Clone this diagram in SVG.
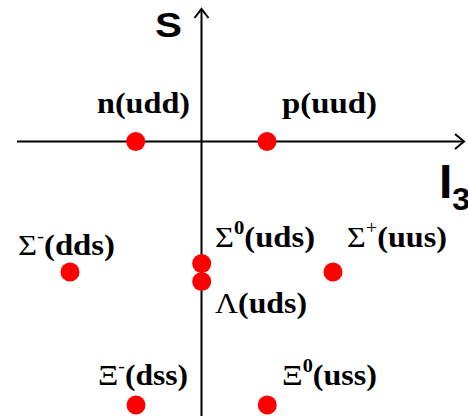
<svg xmlns="http://www.w3.org/2000/svg" width="468" height="416" viewBox="0 0 468 416">
<style>
.ax{stroke:#000;stroke-width:2;fill:none}
.dot{fill:#ff0000}
.lbl{font-family:"Liberation Serif","Times New Roman",serif;font-weight:bold;font-size:30px;fill:#000}
.gr{font-weight:normal}
.sup{font-size:19px}
.axl{font-family:"Liberation Sans",Arial,sans-serif;font-weight:bold;fill:#000}
</style>
<rect width="468" height="416" fill="#fff"/>
<g id="connectors">
<line class="ax" x1="201.5" y1="416" x2="201.5" y2="9"/>
<polyline class="ax" points="194.5,18 201.5,9 208.5,18"/>
<line class="ax" x1="17" y1="141.5" x2="464" y2="141.5"/>
<polyline class="ax" points="455,134 464,141.5 455,149"/>
</g>
<g id="axis-S"><text class="axl" x="155" y="37" font-size="35" textLength="27" lengthAdjust="spacingAndGlyphs">S</text></g>
<g id="axis-I3"><text class="axl" x="439" y="198" font-size="48">I<tspan font-size="32" dy="12">3</tspan></text></g>
<g id="n"><circle class="dot" cx="135.7" cy="141.5" r="9.5"/><text class="lbl" x="97" y="113" textLength="93" lengthAdjust="spacingAndGlyphs">n(udd)</text></g>
<g id="p"><circle class="dot" cx="267" cy="141.5" r="9.5"/><text class="lbl" x="282" y="113" textLength="95" lengthAdjust="spacingAndGlyphs">p(uud)</text></g>
<g id="sigma-minus"><circle class="dot" cx="70" cy="272" r="9.5"/><text class="lbl" x="18" y="255" textLength="97" lengthAdjust="spacingAndGlyphs"><tspan class="gr">Σ</tspan><tspan class="sup gr" dy="-13">-</tspan><tspan dy="13">(dds)</tspan></text></g>
<g id="sigma-zero"><circle class="dot" cx="201.7" cy="263.5" r="9.5"/><text class="lbl" x="215" y="247" textLength="100" lengthAdjust="spacingAndGlyphs"><tspan class="gr">Σ</tspan><tspan class="sup" dy="-13">0</tspan><tspan dy="13">(uds)</tspan></text></g>
<g id="lambda"><circle class="dot" cx="201.7" cy="281.5" r="9.5"/><text class="lbl" x="215" y="313" textLength="92" lengthAdjust="spacingAndGlyphs"><tspan class="gr">Λ</tspan>(uds)</text></g>
<g id="sigma-plus"><circle class="dot" cx="333" cy="272" r="9.5"/><text class="lbl" x="347" y="247" textLength="100" lengthAdjust="spacingAndGlyphs"><tspan class="gr">Σ</tspan><tspan class="sup gr" dy="-13">+</tspan><tspan dy="13">(uus)</tspan></text></g>
<g id="xi-minus"><circle class="dot" cx="136" cy="405" r="9.5"/><text class="lbl" x="98" y="385" textLength="90" lengthAdjust="spacingAndGlyphs"><tspan class="gr">Ξ</tspan><tspan class="sup gr" dy="-13">-</tspan><tspan dy="13">(dss)</tspan></text></g>
<g id="xi-zero"><circle class="dot" cx="267.3" cy="405" r="9.5"/><text class="lbl" x="282" y="385" textLength="95" lengthAdjust="spacingAndGlyphs"><tspan class="gr">Ξ</tspan><tspan class="sup" dy="-13">0</tspan><tspan dy="13">(uss)</tspan></text></g>
</svg>
